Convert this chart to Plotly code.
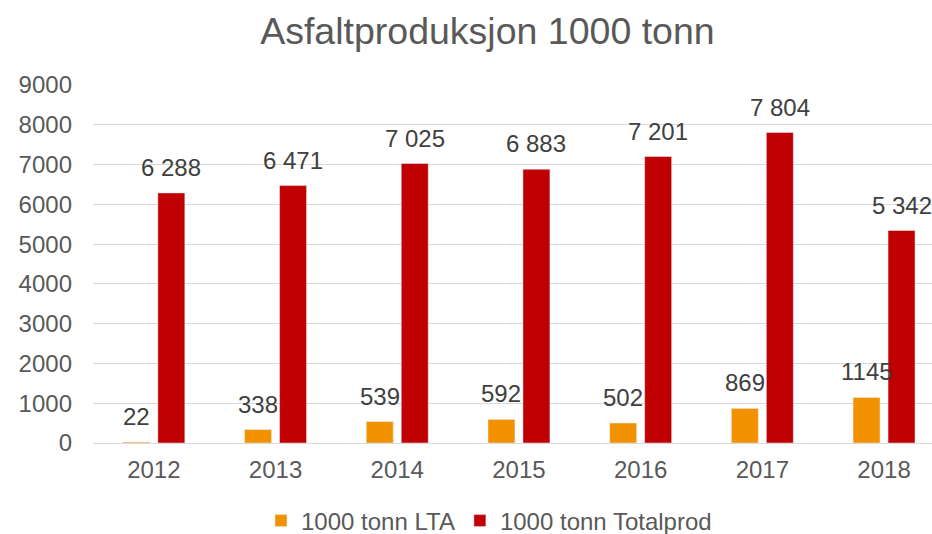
import plotly.graph_objects as go

years = ["2012", "2013", "2014", "2015", "2016", "2017", "2018"]
lta = [22, 338, 539, 592, 502, 869, 1145]
total = [6288, 6471, 7025, 6883, 7201, 7804, 5342]
y_ticks = [0, 1000, 2000, 3000, 4000, 5000, 6000, 7000, 8000, 9000]

lta_text = [str(v) for v in lta]
total_text = [f"{v:,}".replace(",", " ") for v in total]

FONT = "Liberation Sans, Arial, sans-serif"
LABEL_COLOR = "#404040"
TEXT_COLOR = "#595959"

fig = go.Figure()
fig.add_trace(go.Bar(
    x=years, y=lta, name="1000 tonn LTA",
    marker=dict(color="#F39200"),
))
fig.add_trace(go.Bar(
    x=years, y=total, name="1000 tonn Totalprod",
    marker=dict(color="#C00000"),
))

# data labels (placed above each bar of its group; x given as category index)
BAR_SHIFT = 17.5
for i, (v, t) in enumerate(zip(lta, lta_text)):
    fig.add_annotation(x=i, y=v, text=t, xref="x", yref="y", showarrow=False,
                       xanchor="center", yanchor="bottom", xshift=-BAR_SHIFT, yshift=10,
                       font=dict(family=FONT, size=24, color=LABEL_COLOR))
for i, (v, t) in enumerate(zip(total, total_text)):
    fig.add_annotation(x=i, y=v, text=t, xref="x", yref="y", showarrow=False,
                       xanchor="center", yanchor="bottom", xshift=BAR_SHIFT, yshift=10,
                       font=dict(family=FONT, size=24, color=LABEL_COLOR))

fig.update_layout(
    width=932, height=534,
    paper_bgcolor="white", plot_bgcolor="white",
    title=dict(text="Asfaltproduksjon 1000 tonn", x=0.523, xanchor="center",
               y=0.943, yanchor="middle",
               font=dict(family=FONT, size=37.5, color=TEXT_COLOR)),
    font=dict(family=FONT, color=TEXT_COLOR),
    barmode="group", bargap=0.425, bargroupgap=0.229,
    margin=dict(l=93, r=0, t=85, b=91),
    xaxis=dict(type="category", range=[-0.5, 6.394],
               tickfont=dict(size=24, color=TEXT_COLOR), showgrid=False,
               showline=True, linecolor="#D9D9D9", linewidth=1, ticks="",
               ticklabelstandoff=5, automargin=False),
    yaxis=dict(range=[0, 9000], tickvals=y_ticks, tickfont=dict(size=24, color=TEXT_COLOR),
               showgrid=True, gridcolor="#D9D9D9", gridwidth=1, zeroline=False,
               ticks="", ticklabelstandoff=20, automargin=False),
    legend=dict(orientation="h", x=0.472, xanchor="center",
                yref="container", y=0.0243, yanchor="middle",
                font=dict(size=24, color=TEXT_COLOR), itemwidth=30,
                traceorder="normal"),
)

fig.write_html("out.html", config={"displayModeBar": False},
               post_script="document.body.style.margin='0';")
